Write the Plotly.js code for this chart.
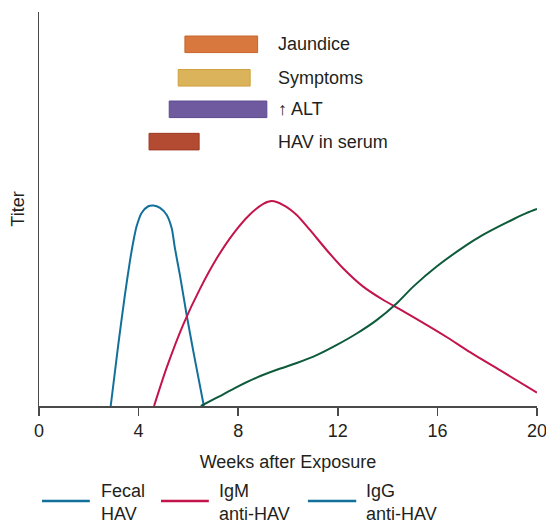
<!DOCTYPE html>
<html>
<head>
<meta charset="utf-8">
<script src="https://cdn.plot.ly/plotly-3.0.1.min.js"></script>
<style>html,body{margin:0;padding:0;background:#fff;}#chart{width:546px;height:522px;}</style>
</head>
<body>
<div id="chart"></div>
<script>
// ---- data ----
var fecalWeeks = [2.88, 3.18, 3.45, 3.65, 3.79, 3.92, 4.12, 4.39, 4.59, 4.86, 5.13, 5.33, 5.46, 5.66, 5.93, 6.20, 6.62];
var fecalTiter = [0, 15.4, 28.2, 36.7, 41.8, 45.6, 49.0, 50.7, 50.9, 50.3, 48.5, 45.1, 40.0, 33.2, 23.1, 13.8, 0];
var igmWeeks = [4.62, 5.13, 5.80, 6.47, 7.14, 7.80, 8.47, 9.01, 9.35, 9.81, 10.35, 10.88, 11.55, 12.22, 13.02, 13.83, 14.50, 15.70, 16.45, 17.18, 18.51, 20];
var igmTiter = [0, 9.8, 20.8, 29.8, 37.5, 43.7, 48.6, 51.3, 52.0, 51.0, 48.5, 44.7, 39.6, 34.9, 30.3, 26.9, 24.5, 20.1, 17.2, 14.2, 9.1, 3.4];
var iggWeeks = [6.50, 7.14, 7.94, 8.74, 9.55, 10.35, 11.15, 11.96, 12.76, 13.56, 14.37, 15.03, 15.97, 17.18, 17.71, 18.51, 19.05, 19.59, 20];
var iggTiter = [0, 2.1, 4.8, 7.2, 9.2, 10.9, 12.9, 15.5, 18.4, 21.8, 26.1, 30.3, 35.4, 40.9, 43.0, 45.7, 47.4, 49.0, 50.0];

var eventLabels = ["Jaundice", "Symptoms", "\u2191 ALT", "HAV in serum"];
var eventStart = [5.86, 5.59, 5.23, 4.42];
var eventEnd = [8.78, 8.48, 9.15, 6.43];
var eventLevel = [91.8, 83.3, 75.3, 67.1];

var seriesNames = ["Fecal<br>HAV", "IgM<br>anti-HAV", "IgG<br>anti-HAV"];
var xTicks = [0, 4, 8, 12, 16, 20];

// ---- styles ----
var textColor = "#231f20";
var axisColor = "#4a4a4a";
var fontFam = "Liberation Sans, Arial, sans-serif";
var lineColors = ["#13709b", "#c3144b", "#0d5b3a"];
var legendColors = ["#13709b", "#c3144b", "#13709b"];
var barFill = ["#d8783e", "#dbb35a", "#6f5aa0", "#b24b31"];
var barLine = ["#c7642c", "#cfa040", "#5d4890", "#9c3720"];

var traces = [];
traces.push({
  type: "bar", orientation: "h",
  y: eventLevel,
  base: eventStart,
  x: eventEnd.map(function (e, i) { return e - eventStart[i]; }),
  width: 4.2,
  marker: { color: barFill, line: { color: barLine, width: 1 } },
  hoverinfo: "skip", showlegend: false
});
var xs = [fecalWeeks, igmWeeks, iggWeeks];
var ys = [fecalTiter, igmTiter, iggTiter];
for (var i = 0; i < 3; i++) {
  traces.push({
    type: "scatter", mode: "lines", x: xs[i], y: ys[i],
    line: { color: lineColors[i], width: 2, shape: "spline", smoothing: 0.7 },
    showlegend: false, hoverinfo: "skip"
  });
}

var annotations = [];
for (var j = 0; j < eventLabels.length; j++) {
  annotations.push({
    x: 9.52, y: eventLevel[j], xref: "x", yref: "y",
    text: eventLabels[j], showarrow: false, xanchor: "left", yanchor: "middle",
    font: { size: 18, color: textColor, family: fontFam }
  });
}
// manual legend
var swX0 = [0.006, 0.245, 0.540];
var swX1 = [0.102, 0.341, 0.637];
var txX = [0.120, 0.357, 0.653];
var shapes = [];
for (var k = 0; k < 3; k++) {
  shapes.push({
    type: "line", xref: "paper", yref: "paper",
    x0: swX0[k], x1: swX1[k], y0: -0.241, y1: -0.241,
    line: { color: legendColors[k], width: 2.5 }
  });
  annotations.push({
    x: txX[k], y: -0.244, xref: "paper", yref: "paper",
    text: seriesNames[k], showarrow: false, xanchor: "left", yanchor: "middle", align: "left",
    font: { size: 18, color: textColor, family: fontFam }
  });
}

var layout = {
  width: 546, height: 522,
  margin: { l: 39, r: 9, t: 12, b: 116 },
  paper_bgcolor: "#fff", plot_bgcolor: "#fff",
  font: { family: fontFam, color: textColor, size: 18 },
  showlegend: false,
  xaxis: {
    range: [0, 20], tickvals: xTicks, ticktext: xTicks.map(String),
    ticklabeloverflow: "allow",
    showgrid: false, zeroline: false, showline: true, linecolor: axisColor, linewidth: 1.5,
    ticks: "outside", ticklen: 8, tickwidth: 1.5, tickcolor: axisColor,
    tickfont: { size: 18, color: textColor, family: fontFam },
    title: { text: "Weeks after Exposure", font: { size: 18, color: textColor, family: fontFam }, standoff: 15 }
  },
  yaxis: {
    range: [0, 100], showgrid: false, zeroline: false, showline: true, linecolor: axisColor, linewidth: 1.5,
    showticklabels: false, ticks: "",
    title: { text: "Titer", font: { size: 18, color: textColor, family: fontFam }, standoff: 8 }
  },
  shapes: shapes,
  annotations: annotations
};

Plotly.newPlot("chart", traces, layout, { displayModeBar: false, staticPlot: true });
</script>
</body>
</html>
